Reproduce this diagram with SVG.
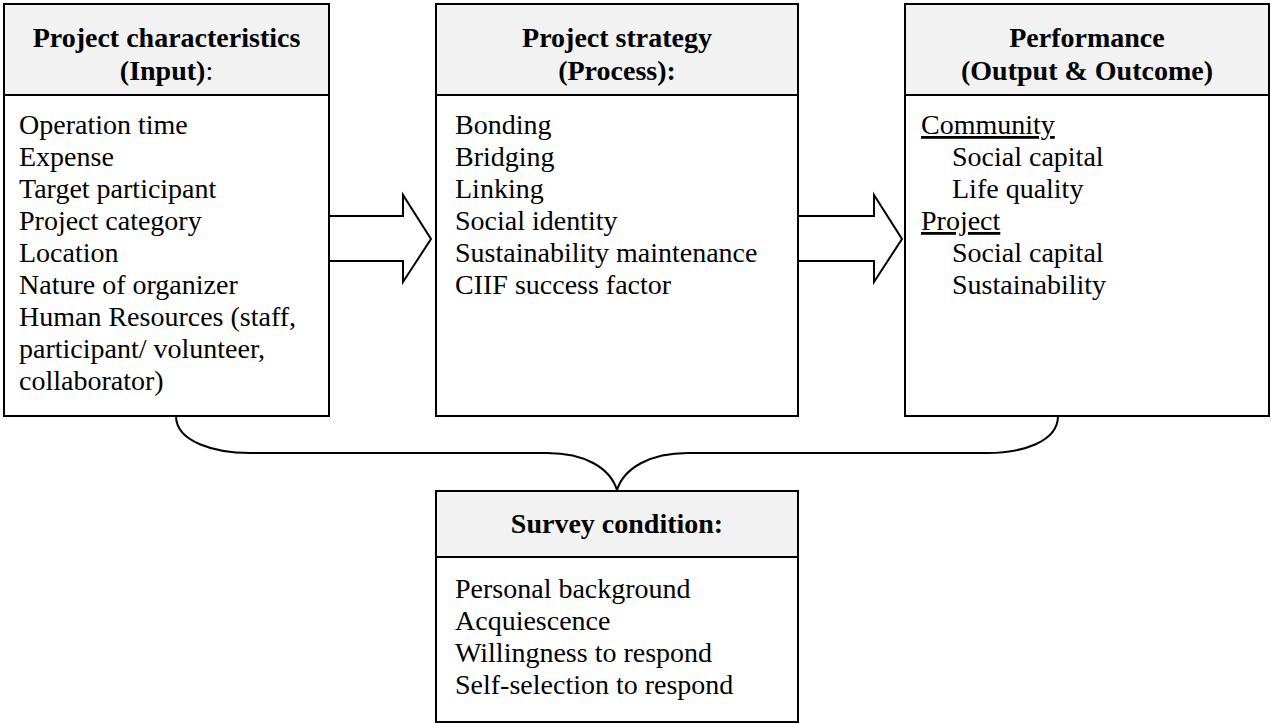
<svg xmlns="http://www.w3.org/2000/svg" width="1271" height="724" viewBox="0 0 1271 724">
  <style>
    .head { fill: #f2f2f2; stroke: #000; stroke-width: 2; }
    .body { fill: #fff; stroke: #000; stroke-width: 2; }
    .ht { font-family: "Liberation Serif", "Times New Roman", serif; font-size: 28px; font-weight: bold; fill: #000; text-anchor: middle; }
    .bt { font-family: "Liberation Serif", "Times New Roman", serif; font-size: 28px; fill: #000; }
    .u { text-decoration: underline; }
    .conn { fill: none; stroke: #000; stroke-width: 2; }
    .arrow { fill: #fff; stroke: #000; stroke-width: 2; stroke-linejoin: miter; }
  </style>
  <rect width="1271" height="724" fill="#fff"/>

  <g id="connectors">
    <!-- block arrows between the three upper boxes -->
    <path class="arrow" d="M330,216 L403,216 L403,195 L431,239 L403,282 L403,261 L330,261"/>
    <path class="arrow" d="M798,216 L874,216 L874,195 L902,239 L874,282 L874,261 L798,261"/>
    <!-- brace joining the outer boxes to the survey box -->
    <path class="conn" d="M176,416 C176,442 215,453 250,453 L547,453 C585,453 610,468 617,490"/>
    <path class="conn" d="M617,490 C624,468 650,453 688,453 L987,453 C1022,453 1058,442 1058,416"/>
  </g>

  <g id="node-input">
    <rect class="body" x="4" y="95" width="325" height="321"/>
    <rect class="head" x="4" y="4" width="325" height="91"/>
    <text class="ht" x="166.5" y="47">Project characteristics</text>
    <text class="ht" x="166.5" y="80">(Input)<tspan font-weight="normal">:</tspan></text>
    <text class="bt" x="19" y="134">Operation time</text>
    <text class="bt" x="19" y="166">Expense</text>
    <text class="bt" x="19" y="198">Target participant</text>
    <text class="bt" x="19" y="230">Project category</text>
    <text class="bt" x="19" y="262">Location</text>
    <text class="bt" x="19" y="294">Nature of organizer</text>
    <text class="bt" x="19" y="326">Human Resources (staff,</text>
    <text class="bt" x="19" y="358">participant/ volunteer,</text>
    <text class="bt" x="19" y="390">collaborator)</text>
  </g>

  <g id="node-process">
    <rect class="body" x="436" y="95" width="362" height="321"/>
    <rect class="head" x="436" y="4" width="362" height="91"/>
    <text class="ht" x="617" y="47">Project strategy</text>
    <text class="ht" x="617" y="80">(Process):</text>
    <text class="bt" x="455" y="134">Bonding</text>
    <text class="bt" x="455" y="166">Bridging</text>
    <text class="bt" x="455" y="198">Linking</text>
    <text class="bt" x="455" y="230">Social identity</text>
    <text class="bt" x="455" y="262">Sustainability maintenance</text>
    <text class="bt" x="455" y="294">CIIF success factor</text>
  </g>

  <g id="node-performance">
    <rect class="body" x="905" y="95" width="364" height="321"/>
    <rect class="head" x="905" y="4" width="364" height="91"/>
    <text class="ht" x="1087" y="47">Performance</text>
    <text class="ht" x="1087" y="80">(Output &amp; Outcome)</text>
    <text class="bt u" x="921" y="134">Community</text>
    <text class="bt" x="952" y="166">Social capital</text>
    <text class="bt" x="952" y="198">Life quality</text>
    <text class="bt u" x="921" y="230">Project</text>
    <text class="bt" x="952" y="262">Social capital</text>
    <text class="bt" x="952" y="294">Sustainability</text>
  </g>

  <g id="node-survey">
    <rect class="body" x="436" y="557" width="362" height="165"/>
    <rect class="head" x="436" y="491" width="362" height="66"/>
    <text class="ht" x="617" y="533">Survey condition:</text>
    <text class="bt" x="455" y="598">Personal background</text>
    <text class="bt" x="455" y="630">Acquiescence</text>
    <text class="bt" x="455" y="662">Willingness to respond</text>
    <text class="bt" x="455" y="694">Self-selection to respond</text>
  </g>
</svg>
